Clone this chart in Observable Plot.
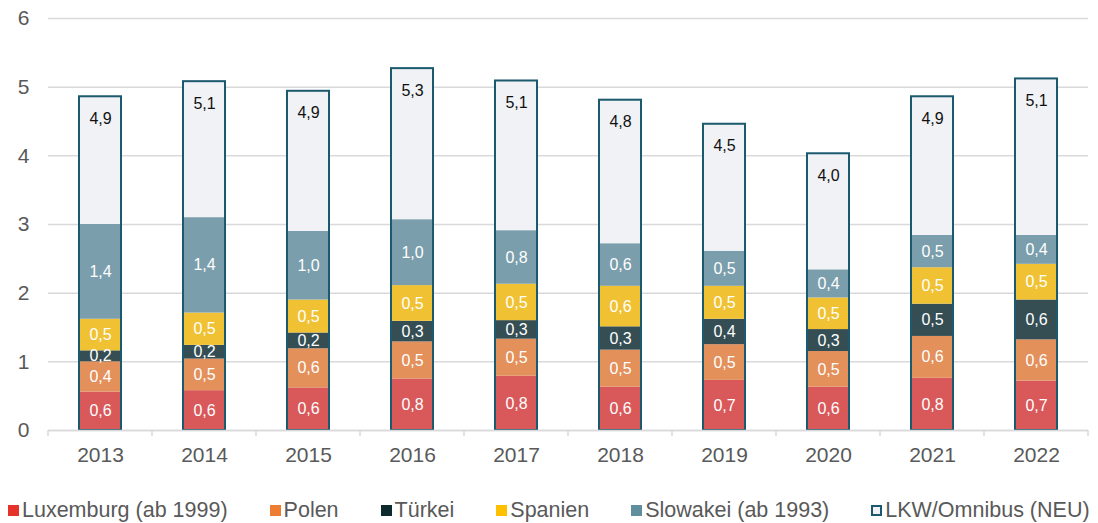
<!DOCTYPE html>
<html>
<head>
<meta charset="utf-8">
<script src="https://cdn.jsdelivr.net/npm/d3@7"></script>
<script src="https://cdn.jsdelivr.net/npm/@observablehq/plot@0.6"></script>
<style>
  body { margin: 0; background: #fff; font-family: "Liberation Sans", Arial, sans-serif; }
  #legend { display: flex; align-items: center; height: 24px; padding-top: 23px; padding-left: 8px; font-size: 21.5px; color: #595959; white-space: nowrap; }
  .item { display: flex; align-items: center; margin-right: 42px; }
  .sw { width: 11px; height: 11px; margin-right: 3px; box-sizing: border-box; }
</style>
</head>
<body>
<div id="chart"></div>
<div id="legend"></div>
<script>
const years = [2013, 2014, 2015, 2016, 2017, 2018, 2019, 2020, 2021, 2022];
const seriesNames = ["Luxemburg (ab 1999)", "Polen", "Türkei", "Spanien", "Slowakei (ab 1993)", "LKW/Omnibus (NEU)"];
const luxemburg = [0.56, 0.58, 0.62, 0.75, 0.79, 0.63, 0.73, 0.63, 0.76, 0.72];
const polen     = [0.44, 0.46, 0.57, 0.54, 0.54, 0.54, 0.52, 0.52, 0.61, 0.60];
const tuerkei   = [0.16, 0.20, 0.23, 0.30, 0.27, 0.34, 0.37, 0.32, 0.47, 0.58];
const spanien   = [0.46, 0.47, 0.48, 0.52, 0.53, 0.59, 0.48, 0.46, 0.53, 0.52];
const slowakei  = [1.38, 1.39, 1.00, 0.96, 0.78, 0.62, 0.51, 0.41, 0.47, 0.42];
const lkw       = [1.86, 1.98, 2.04, 2.20, 2.18, 2.09, 1.85, 1.69, 2.02, 2.28];
const yTicks = [0, 1, 2, 3, 4, 5, 6];

const barColors = ["#d95859", "#e3905b", "#344e53", "#f0c233", "#7a9eab", "#f0f2f6"];
const legendColors = ["#e5332a", "#ed7d31", "#0d2a2e", "#ffc000", "#5f8f9c", "#f0f2f6"];
const outline = "#1b5a6e";

const seriesValues = [luxemburg, polen, tuerkei, spanien, slowakei, lkw];
const data = [];
years.forEach((yr, i) => {
  seriesNames.forEach((s, j) => data.push({year: yr, series: s, value: seriesValues[j][i]}));
});
const totals = years.map((yr, i) => ({year: yr, total: d3.sum(seriesValues, v => v[i])}));
const fmt = v => (Math.round(v * 10) / 10).toFixed(1).replace(".", ",");
const topSeries = seriesNames[seriesNames.length - 1];

const chart = Plot.plot({
  width: 1098,
  height: 475,
  marginLeft: 48,
  marginRight: 10,
  marginTop: 18,
  marginBottom: 45,
  style: {fontFamily: "'Liberation Sans', Arial, sans-serif", fontSize: "21px", color: "#595959", background: "#fff"},
  x: {domain: years, paddingInner: 0.6, paddingOuter: 0.3, label: null},
  y: {domain: [0, 6], label: null},
  color: {domain: seriesNames, range: barColors},
  marks: [
    Plot.gridY(yTicks, {stroke: "#d9d9d9", strokeOpacity: 1, strokeWidth: 1.5}),
    Plot.axisY(yTicks, {tickSize: 0, tickPadding: 19, fontSize: 21, fill: "#595959", label: null, tickFormat: d => String(d)}),
    Plot.axisX({tickSize: 0, tickPadding: 17, fontSize: 21, fill: "#595959", label: null, tickFormat: d => String(d)}),
    Plot.barY(data, {x: "year", y: "value", fill: "series"}),
    Plot.barY(totals, {x: "year", y: "total", fill: "none", stroke: outline, strokeWidth: 2}),
    Plot.text(data.filter(d => d.series !== topSeries), Plot.stackY({x: "year", y: "value", text: d => fmt(d.value), fill: "#fff", fontSize: 16})),
    Plot.text(totals, {x: "year", y: "total", text: d => fmt(d.total), dy: 22, fill: "#111", fontSize: 16}),
    Plot.ruleY([0], {stroke: "#d9d9d9", strokeWidth: 1.5})
  ]
});
document.getElementById("chart").appendChild(chart);

// category boundary ticks from the x band scale
const xs = chart.scale("x");
const y0 = chart.scale("y").apply(0);
const gap = (xs.step - xs.bandwidth) / 2;
const bounds = years.map(yr => xs.apply(yr) - gap);
bounds.push(xs.apply(years[years.length - 1]) + xs.bandwidth + gap);
d3.select(chart).append("g")
  .selectAll("line").data(bounds).join("line")
  .attr("x1", d => d).attr("x2", d => d)
  .attr("y1", y0).attr("y2", y0 + 6)
  .attr("stroke", "#d9d9d9").attr("stroke-width", 1.5);

// legend
const legend = document.getElementById("legend");
seriesNames.forEach((s, j) => {
  const item = document.createElement("div");
  item.className = "item";
  const sw = document.createElement("span");
  sw.className = "sw";
  sw.style.background = legendColors[j];
  if (j === seriesNames.length - 1) sw.style.border = "2px solid " + outline;
  const t = document.createElement("span");
  t.textContent = s;
  item.appendChild(sw);
  item.appendChild(t);
  legend.appendChild(item);
});
</script>
</body>
</html>
